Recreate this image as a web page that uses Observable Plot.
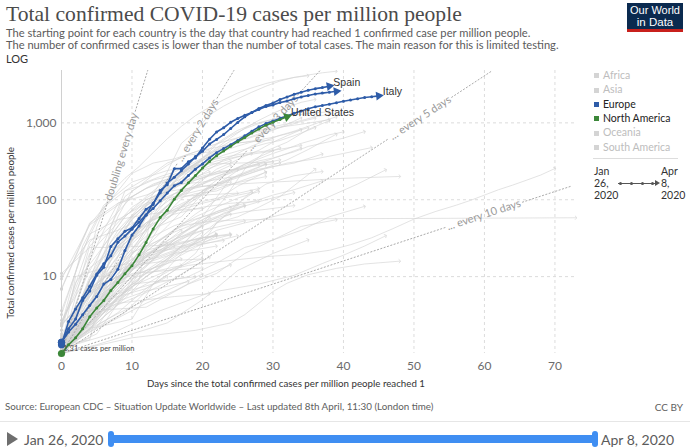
<!DOCTYPE html>
<html>
<head>
<meta charset="utf-8">
<script src="https://cdn.jsdelivr.net/npm/d3@7"></script>
<script src="https://cdn.jsdelivr.net/npm/@observablehq/plot@0.6"></script>
<style>
html,body{margin:0;padding:0;background:#fff;}
#wrap{position:relative;width:690px;height:448px;overflow:hidden;font-family:Lato,sans-serif;}
.t{position:absolute;white-space:nowrap;line-height:1;}
#chart{position:absolute;left:0;top:62px;}
</style>
</head>
<body>
<div id="wrap"><div id="chart"></div></div>
<script>
// ---------------- DATA ----------------
const titleText = "Total confirmed COVID-19 cases per million people";
const subtitleLines = [
  "The starting point for each country is the day that country had reached 1 confirmed case per million people.",
  "The number of confirmed cases is lower than the number of total cases. The main reason for this is limited testing."
];
const scaleLabel = "LOG";
const xLabel = "Days since the total confirmed cases per million people reached 1";
const yLabel = "Total confirmed cases per million people";
const sourceText = "Source: European CDC – Situation Update Worldwide – Last updated 8th April, 11:30 (London time)";
const licenseText = "CC BY";
const startDateText = "Jan 26, 2020";
const endDateText = "Apr 8, 2020";
const xTicks = [0, 10, 20, 30, 40, 50, 60, 70];
const yTicks = [10, 100, 1000];
const legendRegions = ["Africa", "Asia", "Europe", "North America", "Oceania", "South America"];
const activeRegions = ["Europe", "North America"];
const startAnnotation = "1.31 cases per million";

// highlighted series: value per day since reaching 1 case per million
const spain = [1.4,1.9,2.4,3.2,4.2,5.5,8.0,9.2,12.5,21.8,34.9,45.6,63,90,123,165,196,238,292,365,426,531,609,705,845,1014,1197,1365,1539,1679,1815,2011,2176,2348,2508,2657,2786,2877,2993];
const switzerland = [1.4,2.1,2.8,4.9,6.5,10.4,13.2,24.7,31,39,43,57,75,87,132,157,254,254,312,350,471,612,760,864,1017,1142,1260,1365,1495,1627,1714,1841,1920,2054,2177,2267,2369,2439,2504,2573];
const italy = [1.3,2.6,3.8,5.3,7.5,10.8,14.7,18.7,28,33.7,41.4,51,64,77,97,122,152,168,206,250,292,350,410,463,521,591,679,778,887,978,1058,1144,1230,1333,1431,1530,1616,1683,1750,1829,1906,1982,2062,2133,2192,2243];
const unitedStates = [1.0,1.3,1.6,2.1,3.0,3.9,4.9,6.6,8.4,10.9,13.9,19.2,27.8,41.7,58.6,73.2,101.6,132.4,166,206,258,315,374,431,495,569,645,736,833,934,1019,1109,1198];
const highlightNames = ["Spain", "Switzerland", "Italy", "United States"];
const highlightRegions = ["Europe", "Europe", "Europe", "North America"];
const highlightSeries = [spain, switzerland, italy, unitedStates];
const labelledNames = ["Spain", "Italy", "United States"];

// other countries (grey): [day, cases per million]
const grayEurope = [
 ["Luxembourg", [[0,1.6],[4,4.8],[7,11],[9,30],[11,60],[13,120],[15,230],[17,540],[19,780],[21,1270],[23,1650],[25,2060],[27,2500],[29,3000],[31,3500],[33,3900],[35,4200],[37,4480],[39,4700]]],
 ["Iceland", [[0,2.7],[3,8],[5,44],[7,124],[9,190],[11,270],[13,410],[15,620],[17,900],[19,1240],[21,1600],[23,2000],[25,2450],[27,2850],[29,3250],[31,3600],[33,3900],[35,4100]]],
 ["Belgium", [[0,1.1],[3,2.0],[6,15],[8,28],[10,59],[12,89],[14,120],[16,190],[18,250],[20,350],[22,470],[24,640],[26,850],[28,1080],[30,1330],[32,1600],[34,1850],[36,2020]]],
 ["Netherlands", [[0,1.4],[3,5.6],[6,15],[8,30],[10,47],[12,70],[14,93],[16,170],[18,250],[20,330],[22,420],[24,520],[26,620],[28,720],[30,820],[32,920],[34,1040],[36,1150]]],
 ["Austria", [[0,1.1],[4,2.6],[7,10],[9,20],[11,40],[13,85],[15,130],[17,220],[19,350],[21,460],[23,620],[25,800],[27,950],[29,1060],[31,1180],[33,1260],[35,1320],[38,1400]]],
 ["Norway", [[0,1.1],[3,5],[5,16],[7,45],[9,110],[11,150],[13,210],[15,280],[17,360],[19,420],[21,500],[23,570],[25,640],[27,730],[29,810],[31,880],[34,960],[38,1100]]],
 ["Denmark", [[0,1.2],[5,4.5],[7,45],[9,130],[11,150],[13,180],[15,200],[17,230],[19,270],[21,320],[23,380],[25,430],[27,480],[29,540],[31,590],[33,680],[36,870]]],
 ["Ireland", [[0,1.3],[4,4.3],[7,14],[9,25],[11,35],[13,62],[15,120],[17,190],[19,280],[21,370],[23,480],[25,570],[27,650],[29,740],[31,870],[34,1160]]],
 ["Portugal", [[0,1.3],[4,4],[6,11],[8,24],[10,44],[12,75],[14,110],[16,150],[18,210],[20,350],[22,520],[24,680],[26,840],[28,980],[30,1100],[33,1290]]],
 ["France", [[0,1.5],[4,4.2],[7,11],[9,18],[11,30],[13,57],[15,82],[17,140],[19,190],[21,250],[23,330],[25,400],[27,500],[29,590],[31,690],[33,780],[35,900],[37,1050],[39,1200]]],
 ["Germany", [[0,1.6],[3,3.2],[6,10],[8,14],[10,30],[12,60],[14,100],[16,180],[18,255],[20,340],[22,450],[24,580],[26,700],[28,800],[30,890],[32,970],[34,1070],[36,1200],[38,1290]]],
 ["United Kingdom", [[0,1.7],[3,3],[6,5.7],[8,9.5],[10,16],[12,29],[14,50],[16,83],[18,125],[20,180],[22,250],[24,300],[26,370],[28,440],[30,560],[32,680],[34,814]]],
 ["Sweden", [[0,1.3],[4,1.5],[6,10],[8,35],[10,62],[12,85],[14,100],[16,120],[18,140],[20,160],[22,200],[24,240],[26,290],[28,340],[30,400],[32,460],[34,540],[36,610],[38,700],[40,762]]],
 ["Finland", [[0,1.1],[5,3.6],[8,10],[10,30],[12,40],[14,55],[16,75],[18,95],[20,130],[22,160],[24,190],[26,220],[28,250],[30,270],[33,300],[37,393]]],
 ["Estonia", [[0,1.5],[4,7.5],[6,20],[8,60],[10,130],[12,170],[14,200],[16,230],[18,280],[20,350],[22,440],[24,530],[26,560],[28,600],[30,650],[32,720],[35,865]]],
 ["Slovenia", [[0,2.4],[3,10],[6,40],[8,90],[10,110],[12,140],[14,170],[16,200],[18,250],[20,300],[22,340],[24,370],[26,400],[28,420],[30,440],[32,470],[34,509]]],
 ["Czechia", [[0,1.2],[4,3.0],[7,8.5],[9,14],[11,20],[13,30],[15,45],[17,70],[19,105],[21,140],[23,180],[25,240],[27,280],[29,320],[31,370],[34,468]]],
 ["Greece", [[0,1.0],[5,6.2],[8,9],[10,16],[12,21],[14,30],[16,38],[18,45],[20,55],[22,70],[24,80],[26,90],[28,100],[30,115],[33,135],[37,176]]],
 ["Croatia", [[0,2.4],[3,4.4],[6,8.5],[9,16],[11,30],[13,60],[15,100],[17,140],[19,180],[21,210],[24,240],[27,280],[31,330]]],
 ["Romania", [[0,1.1],[4,2.5],[7,6.0],[10,12],[13,22],[16,40],[19,65],[22,100],[25,150],[29,230]]],
 ["Poland", [[0,1.1],[4,3.0],[7,6.5],[10,15],[13,25],[16,41],[19,60],[22,80],[25,105],[28,128]]],
 ["Russia", [[0,1.0],[3,1.7],[6,3.0],[9,5.2],[12,10],[15,16],[18,31],[21,59]]],
 ["Serbia", [[0,1.0],[4,5.4],[7,16],[10,35],[13,55],[16,100],[19,145],[22,190],[25,240],[28,290]]],
 ["Hungary", [[0,1.2],[4,3.4],[7,7.6],[10,16],[13,27],[16,40],[19,55],[22,70],[25,88]]],
 ["Lithuania", [[0,1.1],[4,9],[7,25],[10,55],[13,100],[16,170],[19,230],[22,300],[25,360],[27,400]]],
 ["Latvia", [[0,1.0],[4,9],[7,28],[10,60],[13,110],[16,160],[19,190],[22,230],[25,250],[28,280],[31,300]]],
 ["Malta", [[0,6.8],[4,48],[7,100],[10,220],[13,300],[16,340],[19,420],[22,480],[25,550],[30,600]]],
 ["Cyprus", [[0,2.3],[4,28],[7,55],[10,110],[13,160],[16,200],[19,260],[22,320],[26,380],[30,430]]],
 ["Bosnia and Herzegovina", [[0,1.5],[4,6],[8,18],[12,40],[16,80],[20,120],[24,160],[29,200]]],
 ["North Macedonia", [[0,1.0],[5,6],[9,15],[13,40],[17,80],[21,130],[25,210],[29,290]]],
 ["Moldova", [[0,1.2],[4,9],[8,22],[12,50],[16,100],[20,190],[24,280]]],
 ["Ukraine", [[0,1.1],[4,3.5],[8,8.5],[12,18],[17,40]]],
 ["Belarus", [[0,1.1],[4,7],[8,10],[12,16],[16,30],[20,60],[24,190]]],
 ["Bulgaria", [[0,1.1],[4,7],[8,13],[12,30],[16,46],[20,60],[24,75],[26,85]]],
 ["Slovakia", [[0,1.1],[4,8],[8,25],[12,50],[16,70],[20,90],[24,110],[27,125]]],
 ["Albania", [[0,1.4],[4,13],[8,25],[12,50],[16,75],[20,95],[24,115],[28,140]]],
 ["Montenegro", [[0,3.2],[3,22],[6,80],[9,130],[12,190],[15,300],[18,380],[21,420]]]
];
const grayNorthAmerica = [
 ["Canada", [[0,1.3],[4,3.0],[7,7.0],[10,16],[13,38],[16,70],[19,110],[22,180],[25,260],[28,360],[31,475]]],
 ["Panama", [[0,2.5],[4,20],[7,40],[10,80],[13,120],[16,200],[19,300],[22,400],[25,500],[28,600]]],
 ["Dominican Republic", [[0,1.1],[4,6],[8,23],[12,70],[16,120],[20,150],[24,170]]],
 ["Mexico", [[0,1.1],[4,2.0],[8,3.4],[12,7],[16,12],[20,20]]],
 ["Costa Rica", [[0,1.5],[4,9],[8,23],[12,45],[16,65],[20,80],[24,90],[28,95]]],
 ["Cuba", [[0,1.0],[4,3.6],[8,11],[12,20],[16,30],[20,45]]],
 ["Trinidad and Tobago", [[0,3.6],[4,36],[8,55],[12,64],[16,72],[20,77]]],
 ["Honduras", [[0,1.0],[4,3.5],[8,10],[12,16],[16,25],[20,33]]],
 ["Barbados", [[0,7],[4,50],[8,90],[12,115],[16,160],[21,230]]],
 ["Jamaica", [[0,2.4],[4,6],[8,10],[12,15],[16,20],[22,25]]]
];
const grayAsia = [
 ["China", [[0,1.4],[2,3.0],[4,5.6],[6,9.6],[8,14.5],[10,20.5],[12,25],[14,30],[16,41],[17,46],[19,49],[21,52],[24,54],[27,55],[30,56],[35,56.5],[40,56.8],[50,57.1],[60,57.6],[73,58.3]]],
 ["Singapore", [[0,1.0],[5,3.2],[10,7.5],[15,12],[18,14],[22,15.5],[26,17],[30,18.5],[34,19.5],[38,22],[41,26],[44,32],[47,42],[50,56],[53,70],[56,85],[58,98],[60,115],[62,135],[64,155],[66,180],[68,210],[70,255]]],
 ["South Korea", [[0,2.0],[2,8.4],[5,19],[9,61],[12,100],[15,128],[19,146],[24,158],[29,168],[34,177],[40,190],[48,201]]],
 ["Japan", [[0,1.16],[7,1.8],[14,3.6],[21,6.2],[28,8],[33,10.4],[37,14.8],[40,19],[43,25],[46,34]]],
 ["Taiwan", [[0,1.0],[10,1.6],[19,2.0],[24,2.5],[26,3.2],[28,4.5],[30,6.4],[32,8.2],[35,10.6],[39,12.8],[43,14.6],[48,15.9]]],
 ["Iran", [[0,1.1],[3,4.5],[5,11.6],[8,27],[10,56],[13,100],[15,135],[18,170],[20,192],[23,230],[25,258],[28,320],[30,350],[33,420],[35,494],[38,570],[40,633],[43,770]]],
 ["Bahrain", [[0,10],[4,30],[8,40],[12,60],[16,110],[20,135],[24,180],[28,240],[32,300],[36,340],[40,400],[44,477]]],
 ["Kuwait", [[0,1.2],[2,10],[6,13],[10,15],[14,18],[18,25],[22,40],[26,50],[30,60],[34,75],[38,110],[42,160],[46,245]]],
 ["Qatar", [[0,1.1],[4,4.5],[8,6],[11,9],[13,90],[15,140],[17,160],[20,170],[23,190],[26,210],[29,260],[32,330],[35,450],[39,714]]],
 ["Israel", [[0,1.1],[5,1.8],[8,4.5],[11,11],[14,14],[17,25],[20,50],[23,100],[26,250],[29,430],[32,560],[35,820],[38,1070]]],
 ["Malaysia", [[0,1.1],[4,2.9],[8,4.6],[11,13],[14,21],[17,30],[20,46],[23,67],[26,83],[29,100],[33,124]]],
 ["Thailand", [[0,1.1],[4,1.6],[7,4.1],[10,8.2],[13,13],[16,19],[19,25],[22,29],[25,34]]],
 ["Lebanon", [[0,1.0],[4,3.0],[8,6],[11,11],[14,20],[17,37],[20,50],[23,62],[26,70],[29,75],[33,84]]],
 ["Saudi Arabia", [[0,1.3],[4,3.5],[8,8],[11,15],[14,26],[17,37],[20,52],[23,65],[26,83]]],
 ["United Arab Emirates", [[0,2.0],[5,2.2],[10,2.8],[13,8],[16,12],[19,20],[22,50],[25,60],[28,80],[31,110],[34,180],[36,250]]],
 ["Turkey", [[0,1.2],[3,8.2],[6,25],[9,60],[12,110],[15,180],[18,260],[22,406]]],
 ["Philippines", [[0,1.1],[4,2.1],[8,5.4],[12,10],[16,18],[19,27],[22,35]]],
 ["Indonesia", [[0,1.1],[4,2.1],[8,3.3],[12,5],[16,7.3],[20,10.8]]],
 ["India", [[0,1.45],[3,2.6],[6,3.8]]],
 ["Pakistan", [[0,1.1],[4,2.1],[8,4.3],[12,6.2],[16,9.5],[21,18]]],
 ["Sri Lanka", [[0,1.0],[4,3.6],[8,4.8],[12,6.5],[18,8.6]]],
 ["Brunei", [[0,2.3],[3,25],[6,85],[10,170],[15,240],[20,290],[25,300],[30,310]]],
 ["Armenia", [[0,1.1],[4,10],[8,40],[12,100],[16,140],[20,240],[24,320]]],
 ["Georgia", [[0,1.0],[8,6],[14,8.5],[18,10],[22,15],[26,24],[30,30],[34,45],[39,55]]],
 ["Azerbaijan", [[0,1.5],[4,3.5],[8,6],[12,14],[16,30],[20,55],[24,80]]],
 ["Kazakhstan", [[0,1.0],[4,2.6],[8,4.4],[12,12],[16,21],[20,38]]],
 ["Oman", [[0,1.0],[6,3.7],[12,4],[18,8],[22,11],[26,20],[30,30],[34,40],[38,60],[43,82]]],
 ["Jordan", [[0,1.2],[4,7],[8,13],[12,22],[16,27],[20,32],[24,35]]],
 ["Iraq", [[0,1.0],[5,1.3],[10,1.8],[15,2.5],[20,5],[25,12],[30,20],[35,30]]],
 ["Kyrgyzstan", [[0,2.3],[4,6.4],[8,10],[12,20],[16,25]]],
 ["Maldives", [[0,11],[4,24],[8,24],[12,25],[16,26],[22,35]]]
];
const grayAfrica = [
 ["South Africa", [[0,1.0],[4,2.5],[7,6.5],[10,15],[13,21],[16,23],[19,26],[23,29.5]]],
 ["Morocco", [[0,1.0],[4,2.3],[8,5.3],[12,10],[16,17],[19,24],[22,34]]],
 ["Algeria", [[0,1.1],[4,2.1],[8,5.6],[12,11],[16,20],[20,30],[22,36]]],
 ["Tunisia", [[0,1.6],[4,2.5],[8,9],[12,19],[16,31],[20,40],[26,53]]],
 ["Egypt", [[0,1.1],[4,1.9],[8,2.9],[12,4.5],[16,6.5],[20,10],[24,14.2]]],
 ["Senegal", [[0,1.5],[4,4],[8,8],[12,11],[17,14]]],
 ["Cameroon", [[0,1.0],[4,3.3],[8,7.5],[12,19],[15,27]]],
 ["Ghana", [[0,1.0],[4,4.5],[8,5.5],[12,7],[15,10]]],
 ["Mauritius", [[0,9.3],[4,47],[8,85],[12,140],[16,190],[19,250]]],
 ["Djibouti", [[0,1.0],[5,3],[10,12],[14,46],[17,60],[21,150]]],
 ["Cape Verde", [[0,1.8],[5,5.4],[10,11],[15,12],[20,13]]],
 ["Gabon", [[0,1.3],[5,2.7],[10,8],[15,9],[19,10]]]
];
const graySouthAmerica = [
 ["Brazil", [[0,1.0],[4,2.8],[8,7],[12,14],[16,28],[20,46],[24,65]]],
 ["Chile", [[0,1.1],[4,3.6],[7,12],[10,23],[13,40],[16,67],[19,115],[22,160],[25,200],[29,290]]],
 ["Ecuador", [[0,1.0],[4,3.3],[7,10],[10,30],[13,58],[16,100],[19,120],[22,130],[25,170],[29,227]]],
 ["Peru", [[0,1.0],[5,4.3],[9,12],[13,20],[17,31],[21,43],[24,70],[27,131]]],
 ["Argentina", [[0,1.0],[4,2.2],[8,6.5],[12,16],[16,22],[20,32],[24,36]]],
 ["Colombia", [[0,1.1],[4,4.5],[8,12],[12,18],[16,24],[20,28],[24,35]]],
 ["Uruguay", [[0,1.2],[4,25],[8,55],[12,90],[16,110],[20,115],[25,122]]],
 ["Bolivia", [[0,1.0],[4,3],[8,9],[12,12],[17,17]]],
 ["Paraguay", [[0,1.1],[4,3],[8,5],[12,8],[16,13],[20,17]]],
 ["Venezuela", [[0,1.1],[4,3],[8,4.5],[12,5],[16,5.5],[21,6]]]
];
const grayOceania = [
 ["Australia", [[0,1.1],[5,2.2],[9,3.4],[13,8],[17,20],[21,40],[25,90],[29,160],[33,205],[37,233]]],
 ["New Zealand", [[0,1.2],[4,2.0],[7,5.5],[10,20],[13,52],[16,105],[19,150],[22,200],[25,247]]],
 ["Fiji", [[0,1.1],[5,5.6],[10,14],[15,16],[20,17]]]
];
// doubling-time guides
const doublingDays = [1, 2, 3, 5, 10];
const guideLabels = ["doubling every day", "... every 2 days", "... every 3 days", "... every 5 days", "... every 10 days"];
const guideLabelDay = [8.5, 19.3, 29.9, 50.9, 59.9];

// ---------------- LAYOUT / STYLE ----------------
const colors = {Europe: "#2e5ca8", "North America": "#3c8739"};
const W = 690, H = 330, mL = 61, mR = 113, mT = 8, mB = 39;
const xMax = 73.2, yMin = 1, yMax = 4800, guideMaxDay = 72.2;
const pxPerDay = (W - mL - mR) / xMax;
const pxPerDecade = (H - mT - mB) / (Math.log10(yMax) - Math.log10(yMin));
const angleOf = (d1, v1, d2, v2) => Math.atan2(-(Math.log10(v2) - Math.log10(v1)) * pxPerDecade, (d2 - d1) * pxPerDay) * 180 / Math.PI;

// rows
const grayRows = [];
for (const group of [grayEurope, grayNorthAmerica, grayAsia, grayAfrica, graySouthAmerica, grayOceania])
  for (const [name, pts] of group) for (const [d, v] of pts) grayRows.push({name, d, v});
const grayStarts = grayRows.filter(r => r.d === 0);

const hlRows = [];
highlightSeries.forEach((vals, i) => vals.forEach((v, d) => hlRows.push({name: highlightNames[i], region: highlightRegions[i], d, v})));
const hlEnds = highlightSeries.map((vals, i) => {
  const n = vals.length - 1;
  return {name: highlightNames[i], region: highlightRegions[i], d: n, v: vals[n], rot: angleOf(n - 1, vals[n - 1], n, vals[n]) + 90};
});
const hlStarts = highlightSeries.map((vals, i) => ({name: highlightNames[i], region: highlightRegions[i], d: 0, v: vals[0]}));
const hlLabels = hlEnds.filter(e => labelledNames.includes(e.name));

// guides split around their labels
const mctx = document.createElement("canvas").getContext("2d");
mctx.font = "11px Lato";
const guideRows = [], guideText = [];
doublingDays.forEach((k, i) => {
  const val = d => Math.pow(2, d / k);
  const dEnd = Math.min(guideMaxDay, k * Math.log2(yMax));
  const slope = Math.log10(2) / k * pxPerDecade;
  const lenPerDay = Math.hypot(pxPerDay, slope);
  const half = (mctx.measureText(guideLabels[i]).width / 2 + 2) / lenPerDay;
  const dc = guideLabelDay[i];
  for (const [a, b, s] of [[0, dc - half, 0], [dc + half, dEnd, 1]]) {
    guideRows.push({g: k + "-" + s, d: a, v: val(a)}, {g: k + "-" + s, d: b, v: val(b)});
  }
  guideText.push({d: dc, v: val(dc), label: guideLabels[i], rot: -Math.atan2(slope, pxPerDay) * 180 / Math.PI});
});

const plot = Plot.plot({
  width: W, height: H,
  marginLeft: mL, marginRight: mR, marginTop: mT, marginBottom: mB,
  style: {fontFamily: "Lato", fontSize: "12px", color: "#6b6b6b", background: "none", overflow: "visible"},
  x: {domain: [0, xMax], ticks: xTicks, tickSize: 0, tickPadding: 8, label: null},
  y: {type: "log", domain: [yMin, yMax], ticks: yTicks, tickFormat: d3.format(","), tickSize: 0, tickPadding: 5, label: null},
  marks: [
    Plot.ruleY(yTicks, {stroke: "#dcdcdc", strokeDasharray: "3,3"}),
    Plot.ruleX(xTicks.filter(t => t > 0), {stroke: "#dcdcdc", strokeDasharray: "3,3"}),
    Plot.ruleX([0], {stroke: "#d0d0d0"}),
    Plot.line(grayRows, {x: "d", y: "v", z: "name", stroke: "#d2d2d2", strokeOpacity: 0.75, strokeWidth: 0.85, markerEnd: "arrow", clip: true}),
    Plot.dot(grayStarts, {x: "d", y: "v", r: 1.4, fill: "#d0d0d0"}),
    Plot.line(guideRows, {x: "d", y: "v", z: "g", stroke: "#aaaaaa", strokeDasharray: "1.2,2.3", strokeWidth: 1}),
    Plot.text(guideText, {x: "d", y: "v", text: "label", rotate: "rot", fill: "#9a9a9a", fontSize: 11, textAnchor: "middle", lineAnchor: "middle"}),
    Plot.line(hlRows, {x: "d", y: "v", z: "name", stroke: d => colors[d.region], strokeWidth: 1.6}),
    Plot.dot(hlRows, {x: "d", y: "v", r: 1.5, fill: d => colors[d.region]}),
    Plot.dot(hlEnds, {x: "d", y: "v", symbol: "triangle", r: 3.3, rotate: "rot", fill: d => colors[d.region]}),
    Plot.dot(hlStarts, {x: "d", y: "v", r: 3.6, fill: d => colors[d.region]}),
    Plot.text(hlLabels, {x: "d", y: "v", text: "name", dx: 4, dy: -4, textAnchor: "start", fill: "#333", fontSize: 10.5, fontFamily: "Liberation Sans"}),
    Plot.text([{d: 0, v: yMin}], {x: "d", y: "v", text: () => startAnnotation, dx: 2, dy: -4.5, textAnchor: "start", fill: "#444", fontSize: 7.5})
  ]
});
document.getElementById("chart").appendChild(plot);

// ---------------- TEXT AROUND THE CHART ----------------
const wrap = document.getElementById("wrap");
const asc = {"Lato": 0.887, "Liberation Serif": 0.8375, "Liberation Sans": 0.8465};
function addText(str, o) {
  const fam = o.family || "Lato";
  let size = o.size;
  const el = document.createElement("div");
  el.className = "t";
  el.textContent = str;
  el.style.fontFamily = `"${fam}"`;
  el.style.fontSize = size + "px";
  el.style.color = o.color || "#333";
  wrap.appendChild(el);
  if (o.width) {
    size = size * o.width / el.getBoundingClientRect().width;
    el.style.fontSize = size + "px";
  }
  const w = el.getBoundingClientRect().width;
  el.style.top = (o.base - asc[fam] * size) + "px";
  const a = o.anchor || "start";
  el.style.left = (a === "start" ? o.x : a === "end" ? o.x - w : o.x - w / 2) + "px";
  return el;
}
function addBox(x, y, w, h, css) {
  const el = document.createElement("div");
  el.style.position = "absolute";
  el.style.left = x + "px"; el.style.top = y + "px";
  el.style.width = w + "px"; el.style.height = h + "px";
  Object.assign(el.style, css || {});
  wrap.appendChild(el);
  return el;
}

addText(titleText, {x: 6, base: 22, size: 21.5, family: "Liberation Serif", color: "#4b4b4b", width: 456});
addText(subtitleLines[0], {x: 6, base: 37, size: 11, color: "#5b5b5b", width: 525});
addText(subtitleLines[1], {x: 6, base: 49, size: 11, color: "#5b5b5b", width: 553});
addText(scaleLabel, {x: 6, base: 63, size: 11, color: "#333"});

// logo
addBox(627, 3, 56, 26, {background: "#0b2a4f"});
addBox(627, 29, 56, 3, {background: "#c8201c"});
addText("Our World", {x: 655, base: 14.5, size: 11.5, family: "Liberation Sans", color: "#fff", anchor: "middle", width: 50});
addText("in Data", {x: 655, base: 26.5, size: 11.5, family: "Liberation Sans", color: "#fff", anchor: "middle"});

// axis titles
addText(xLabel, {x: 286, base: 387.5, size: 10.5, color: "#333", width: 278, anchor: "middle"});
const yl = addText(yLabel, {x: 0, base: 0, size: 10.5, color: "#333", width: 172});
{
  const r = yl.getBoundingClientRect();
  const cx = 10.8, cy = 233;
  yl.style.left = (cx - r.width / 2) + "px";
  yl.style.top = (cy - r.height / 2) + "px";
  yl.style.transform = "rotate(-90deg)";
}

// legend
const legendY = [75.7, 90, 104.3, 118.7, 133, 147.3];
legendRegions.forEach((reg, i) => {
  const on = activeRegions.includes(reg);
  addBox(594, legendY[i] - 2.5, 5, 5, {background: on ? colors[reg] : "#d4d4d4"});
  addText(reg, {x: 603, base: legendY[i] + 3.7, size: 10.5, color: on ? "#222" : "#bdbdbd"});
});
addBox(593, 158, 85, 1, {background: "#dddddd"});
const dateParts = [startDateText.split(" "), endDateText.split(" ")];
[594, 661].forEach((x, j) => {
  const p = dateParts[j];
  [p[0], p[1], p[2]].forEach((s, i) => addText(s, {x, base: 175.5 + i * 12, size: 10.5, color: "#333"}));
});
addBox(618, 182.5, 38, 1, {background: "#555"});
[620, 631, 642, 652].forEach(x => addBox(x - 1.5, 181.5, 3, 3, {background: "#555", borderRadius: "50%"}));
addBox(655, 180, 0, 0, {borderTop: "3px solid transparent", borderBottom: "3px solid transparent", borderLeft: "5px solid #555"});

// footer
addText(sourceText, {x: 5, base: 411, size: 10, color: "#5e5e5e", width: 429});
addText(licenseText, {x: 683, base: 411, size: 10, color: "#5e5e5e", anchor: "end"});
addBox(0, 421, 690, 1, {background: "#e6e6e6"});
addBox(7, 432, 0, 0, {borderTop: "7px solid transparent", borderBottom: "7px solid transparent", borderLeft: "11px solid #6e6e6e"});
addText(startDateText, {x: 24, base: 445, size: 14, color: "#5b5b5b"});
addText(endDateText, {x: 601, base: 445, size: 14, color: "#5b5b5b"});
addBox(111, 435, 484, 8, {background: "#3f8ef2"});
addBox(108, 431, 6, 16, {background: "#3f8ef2", borderRadius: "3px"});
addBox(592, 431, 6, 16, {background: "#3f8ef2", borderRadius: "3px"});
</script>
</body>
</html>
